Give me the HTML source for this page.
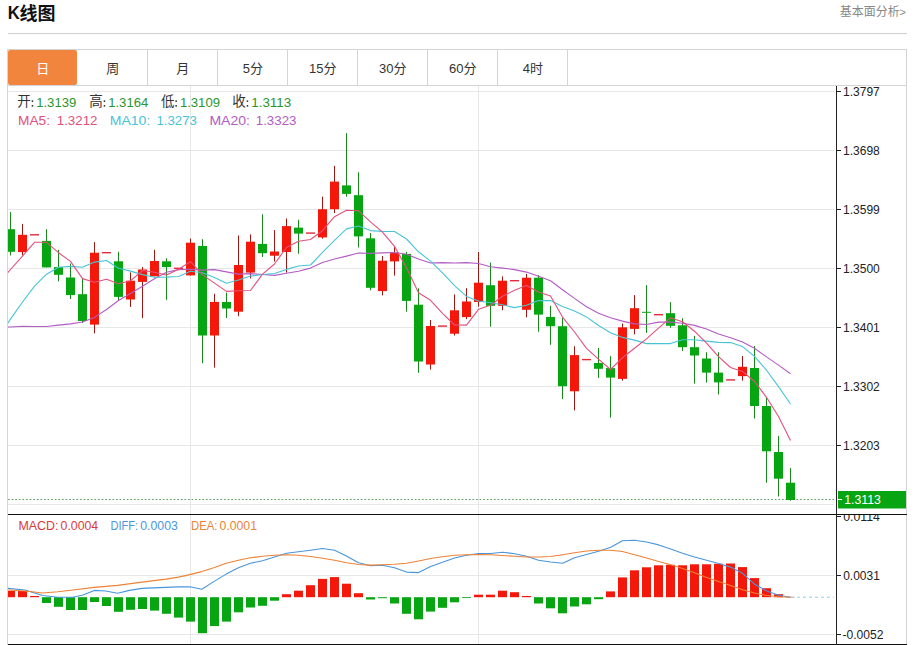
<!DOCTYPE html>
<html lang="zh"><head><meta charset="utf-8"><title>K线图</title>
<style>
html,body{margin:0;padding:0;background:#fff;}
body{width:915px;height:645px;overflow:hidden;position:relative;font-family:"Liberation Sans",sans-serif;}
.title{position:absolute;left:8px;top:2px;margin:0;font-size:18px;line-height:22px;font-weight:bold;color:#111;}
.more{position:absolute;left:899.6px;top:5px;font-size:11px;line-height:14px;color:#888;text-decoration:none;}
.hr{position:absolute;left:8px;top:33px;width:899px;height:1px;background:#cfcfcf;}
.tabs{position:absolute;left:7px;top:49px;width:898px;height:35px;border:1px solid #d4d4d4;display:flex;}
.tab{width:69px;height:35px;border-right:1px solid #d4d4d4;}
.tab.on{background:#f2853d;border-radius:2px;border-right:0;width:69px;margin-right:1px}
svg{position:absolute;left:0;top:0;}
</style></head>
<body>
<h2 class="title"></h2>
<span class="more">&gt;</span>
<div class="hr"></div>
<div class="tabs"><div class="tab on"></div><div class="tab"></div><div class="tab"></div><div class="tab"></div><div class="tab"></div><div class="tab"></div><div class="tab"></div><div class="tab"></div></div>
<svg width="915" height="645" viewBox="0 0 915 645">
<defs><clipPath id="cm"><rect x="8" y="86" width="827" height="428"/></clipPath><clipPath id="cd"><rect x="8" y="515" width="899" height="129"/></clipPath></defs>
<g id="hdr">
<text x="7.7" y="19" font-family="'Liberation Sans', sans-serif" font-size="18" font-weight="bold" fill="#111" textLength="12" lengthAdjust="spacingAndGlyphs">K</text>
<text x="19.5" y="20.2" font-family="'Liberation Sans', 'Noto Sans CJK SC', sans-serif" font-size="18" font-weight="bold" fill="#111">线图</text>
<text x="839.7" y="16.2" font-family="'Liberation Sans', 'Noto Sans CJK SC', sans-serif" font-size="12" fill="#888">基本面分析</text>
<text x="36.3" y="73.2" font-family="'Liberation Sans', 'Noto Sans CJK SC', sans-serif" font-size="13" fill="#fff">日</text>
<text x="106.3" y="73.2" font-family="'Liberation Sans', 'Noto Sans CJK SC', sans-serif" font-size="13" fill="#333">周</text>
<text x="176.3" y="73.2" font-family="'Liberation Sans', 'Noto Sans CJK SC', sans-serif" font-size="13" fill="#333">月</text>
<text x="242.7" y="72.7" font-family="'Liberation Sans', sans-serif" font-size="13" fill="#333">5</text>
<text x="249.91" y="73.2" font-family="'Liberation Sans', 'Noto Sans CJK SC', sans-serif" font-size="13" fill="#333">分</text>
<text x="309.1" y="72.7" font-family="'Liberation Sans', sans-serif" font-size="13" fill="#333">15</text>
<text x="323.53" y="73.2" font-family="'Liberation Sans', 'Noto Sans CJK SC', sans-serif" font-size="13" fill="#333">分</text>
<text x="379.1" y="72.7" font-family="'Liberation Sans', sans-serif" font-size="13" fill="#333">30</text>
<text x="393.53" y="73.2" font-family="'Liberation Sans', 'Noto Sans CJK SC', sans-serif" font-size="13" fill="#333">分</text>
<text x="449.1" y="72.7" font-family="'Liberation Sans', sans-serif" font-size="13" fill="#333">60</text>
<text x="463.53" y="73.2" font-family="'Liberation Sans', 'Noto Sans CJK SC', sans-serif" font-size="13" fill="#333">分</text>
<text x="522.7" y="72.7" font-family="'Liberation Sans', sans-serif" font-size="13" fill="#333">4</text>
<text x="529.91" y="73.2" font-family="'Liberation Sans', 'Noto Sans CJK SC', sans-serif" font-size="13" fill="#333">时</text>
</g>
<g id="chart">
<g shape-rendering="crispEdges">
<rect x="8" y="91" width="826" height="1" fill="#e7e7e7"/>
<rect x="8" y="150" width="826" height="1" fill="#e7e7e7"/>
<rect x="8" y="209" width="826" height="1" fill="#e7e7e7"/>
<rect x="8" y="268" width="826" height="1" fill="#e7e7e7"/>
<rect x="8" y="327" width="826" height="1" fill="#e7e7e7"/>
<rect x="8" y="386" width="826" height="1" fill="#e7e7e7"/>
<rect x="8" y="445" width="826" height="1" fill="#e7e7e7"/>
<rect x="8" y="504" width="826" height="1" fill="#e7e7e7"/>
<rect x="8" y="575" width="826" height="1" fill="#e7e7e7"/>
<rect x="8" y="634" width="826" height="1" fill="#e7e7e7"/>
<rect x="190" y="86" width="1" height="558" fill="#e7e7e7"/>
<rect x="478" y="86" width="1" height="558" fill="#e7e7e7"/>
<rect x="8" y="85" width="899" height="1" fill="#d4d4d4"/>
<rect x="7" y="49" width="1" height="596" fill="#d4d4d4"/>
<rect x="906" y="49" width="1" height="596" fill="#d4d4d4"/>
</g>
<line x1="8" y1="499.5" x2="834" y2="499.5" stroke="#5e9e5e" stroke-width="1" stroke-dasharray="1.7 1.9"/>
<g clip-path="url(#cm)">
<rect x="10" y="212.1" width="1" height="43.3" fill="#15881a"/>
<rect x="6" y="229.2" width="9" height="22.6" fill="#07a512"/>
<rect x="22" y="223.9" width="1" height="31.5" fill="#a01612"/>
<rect x="18" y="234.8" width="9" height="17.3" fill="#f4180a"/>
<rect x="30" y="234.1" width="9" height="1.4" fill="#e22c3e"/>
<rect x="46" y="229.2" width="1" height="38.2" fill="#15881a"/>
<rect x="42" y="240.9" width="9" height="26.5" fill="#07a512"/>
<rect x="58" y="249.8" width="1" height="31.5" fill="#15881a"/>
<rect x="54" y="267.1" width="9" height="7.7" fill="#07a512"/>
<rect x="70" y="263.6" width="1" height="35.4" fill="#15881a"/>
<rect x="66" y="277.5" width="9" height="17.6" fill="#07a512"/>
<rect x="82" y="278.3" width="1" height="44.8" fill="#15881a"/>
<rect x="78" y="294.2" width="9" height="26.8" fill="#07a512"/>
<rect x="94" y="242.1" width="1" height="91.3" fill="#a01612"/>
<rect x="90" y="252.7" width="9" height="71.9" fill="#f4180a"/>
<rect x="102" y="252" width="9" height="1.4" fill="#e22c3e"/>
<rect x="118" y="251.8" width="1" height="48.6" fill="#15881a"/>
<rect x="114" y="261.3" width="9" height="35.6" fill="#07a512"/>
<rect x="130" y="272.4" width="1" height="34.5" fill="#a01612"/>
<rect x="126" y="280.7" width="9" height="18.8" fill="#f4180a"/>
<rect x="142" y="267.1" width="1" height="51" fill="#a01612"/>
<rect x="138" y="269.5" width="9" height="12.4" fill="#f4180a"/>
<rect x="154" y="249.8" width="1" height="26.5" fill="#a01612"/>
<rect x="150" y="261" width="9" height="15.3" fill="#f4180a"/>
<rect x="166" y="258.3" width="1" height="41.5" fill="#15881a"/>
<rect x="162" y="261.3" width="9" height="5.8" fill="#07a512"/>
<rect x="174" y="267.6" width="9" height="1.4" fill="#e22c3e"/>
<rect x="190" y="238.6" width="1" height="36.8" fill="#a01612"/>
<rect x="186" y="242.7" width="9" height="32.7" fill="#f4180a"/>
<rect x="202" y="239.2" width="1" height="123.9" fill="#15881a"/>
<rect x="198" y="245.9" width="9" height="89.6" fill="#07a512"/>
<rect x="214" y="293.7" width="1" height="73.9" fill="#a01612"/>
<rect x="210" y="301.9" width="9" height="33.6" fill="#f4180a"/>
<rect x="226" y="292.6" width="1" height="25.4" fill="#15881a"/>
<rect x="222" y="302" width="9" height="6.5" fill="#07a512"/>
<rect x="238" y="235.5" width="1" height="80.7" fill="#a01612"/>
<rect x="234" y="265" width="9" height="46.7" fill="#f4180a"/>
<rect x="250" y="234.4" width="1" height="44" fill="#a01612"/>
<rect x="246" y="241.7" width="9" height="30.9" fill="#f4180a"/>
<rect x="262" y="214.3" width="1" height="42.7" fill="#15881a"/>
<rect x="258" y="243.9" width="9" height="9.3" fill="#07a512"/>
<rect x="274" y="230.1" width="1" height="31.4" fill="#a01612"/>
<rect x="270" y="251.5" width="9" height="4.2" fill="#f4180a"/>
<rect x="286" y="218.5" width="1" height="54.1" fill="#a01612"/>
<rect x="282" y="226.1" width="9" height="25.9" fill="#f4180a"/>
<rect x="298" y="219.8" width="1" height="33.9" fill="#15881a"/>
<rect x="294" y="227.6" width="9" height="6" fill="#07a512"/>
<rect x="306" y="232.4" width="9" height="1.4" fill="#e22c3e"/>
<rect x="322" y="196.7" width="1" height="42" fill="#a01612"/>
<rect x="318" y="209.2" width="9" height="28.2" fill="#f4180a"/>
<rect x="334" y="165.8" width="1" height="47.2" fill="#a01612"/>
<rect x="330" y="181.6" width="9" height="27.6" fill="#f4180a"/>
<rect x="346" y="133.1" width="1" height="63.6" fill="#15881a"/>
<rect x="342" y="185.4" width="9" height="8.5" fill="#07a512"/>
<rect x="358" y="172.3" width="1" height="75.2" fill="#15881a"/>
<rect x="354" y="195.2" width="9" height="41.2" fill="#07a512"/>
<rect x="370" y="233" width="1" height="57.3" fill="#15881a"/>
<rect x="366" y="238.3" width="9" height="49.5" fill="#07a512"/>
<rect x="382" y="256" width="1" height="39.4" fill="#a01612"/>
<rect x="378" y="260.7" width="9" height="30.4" fill="#f4180a"/>
<rect x="394" y="247.1" width="1" height="28.5" fill="#a01612"/>
<rect x="390" y="252.6" width="9" height="8.8" fill="#f4180a"/>
<rect x="406" y="251.8" width="1" height="59.9" fill="#15881a"/>
<rect x="402" y="253.9" width="9" height="47" fill="#07a512"/>
<rect x="418" y="288.3" width="1" height="84.5" fill="#15881a"/>
<rect x="414" y="304.7" width="9" height="56.8" fill="#07a512"/>
<rect x="430" y="320" width="1" height="49.5" fill="#a01612"/>
<rect x="426" y="326" width="9" height="38.5" fill="#f4180a"/>
<rect x="438" y="325.4" width="9" height="1.4" fill="#e22c3e"/>
<rect x="454" y="294.5" width="1" height="41" fill="#a01612"/>
<rect x="450" y="310.3" width="9" height="23.4" fill="#f4180a"/>
<rect x="466" y="288.2" width="1" height="30.9" fill="#a01612"/>
<rect x="462" y="301.5" width="9" height="15.6" fill="#f4180a"/>
<rect x="478" y="252" width="1" height="54.6" fill="#a01612"/>
<rect x="474" y="282.7" width="9" height="19.3" fill="#f4180a"/>
<rect x="490" y="262.6" width="1" height="64.1" fill="#15881a"/>
<rect x="486" y="285.2" width="9" height="20.6" fill="#07a512"/>
<rect x="502" y="276.4" width="1" height="33.9" fill="#a01612"/>
<rect x="498" y="280.7" width="9" height="25.1" fill="#f4180a"/>
<rect x="510" y="280" width="9" height="1.4" fill="#e22c3e"/>
<rect x="526" y="273.9" width="1" height="43.5" fill="#a01612"/>
<rect x="522" y="277.7" width="9" height="32.1" fill="#f4180a"/>
<rect x="538" y="275.1" width="1" height="56.6" fill="#15881a"/>
<rect x="534" y="277.7" width="9" height="36.9" fill="#07a512"/>
<rect x="550" y="305.8" width="1" height="39" fill="#15881a"/>
<rect x="546" y="316.9" width="9" height="9.3" fill="#07a512"/>
<rect x="562" y="317.9" width="1" height="81.2" fill="#15881a"/>
<rect x="558" y="326.2" width="9" height="60" fill="#07a512"/>
<rect x="574" y="346.3" width="1" height="64.1" fill="#a01612"/>
<rect x="570" y="355.1" width="9" height="36.2" fill="#f4180a"/>
<rect x="582" y="358.9" width="9" height="1.4" fill="#e22c3e"/>
<rect x="598" y="348" width="1" height="29.9" fill="#15881a"/>
<rect x="594" y="363" width="9" height="5.8" fill="#07a512"/>
<rect x="610" y="356.2" width="1" height="61.4" fill="#15881a"/>
<rect x="606" y="368.1" width="9" height="9.5" fill="#07a512"/>
<rect x="622" y="323.5" width="1" height="57.1" fill="#a01612"/>
<rect x="618" y="327.3" width="9" height="51.6" fill="#f4180a"/>
<rect x="634" y="295.1" width="1" height="39.3" fill="#a01612"/>
<rect x="630" y="308.2" width="9" height="20.7" fill="#f4180a"/>
<rect x="646" y="285.1" width="1" height="47.8" fill="#15881a"/>
<rect x="642" y="311.8" width="9" height="1" fill="#07a512"/>
<rect x="654" y="314" width="9" height="1.4" fill="#e22c3e"/>
<rect x="670" y="302.2" width="1" height="25.6" fill="#15881a"/>
<rect x="666" y="313.2" width="9" height="12.6" fill="#07a512"/>
<rect x="682" y="318.3" width="1" height="32.6" fill="#15881a"/>
<rect x="678" y="325.3" width="9" height="21.9" fill="#07a512"/>
<rect x="694" y="335.9" width="1" height="47.7" fill="#15881a"/>
<rect x="690" y="347.2" width="9" height="8.3" fill="#07a512"/>
<rect x="706" y="352.2" width="1" height="30.4" fill="#15881a"/>
<rect x="702" y="358.5" width="9" height="14.1" fill="#07a512"/>
<rect x="718" y="352.2" width="1" height="42.2" fill="#15881a"/>
<rect x="714" y="372.6" width="9" height="9.8" fill="#07a512"/>
<rect x="726" y="379.2" width="9" height="1.4" fill="#e22c3e"/>
<rect x="742" y="356" width="1" height="24.6" fill="#a01612"/>
<rect x="738" y="366.8" width="9" height="9.3" fill="#f4180a"/>
<rect x="754" y="345.9" width="1" height="72.5" fill="#15881a"/>
<rect x="750" y="368" width="9" height="38" fill="#07a512"/>
<rect x="766" y="398" width="1" height="84.7" fill="#15881a"/>
<rect x="762" y="406" width="9" height="45.3" fill="#07a512"/>
<rect x="778" y="435.9" width="1" height="60.6" fill="#15881a"/>
<rect x="774" y="452" width="9" height="26.7" fill="#07a512"/>
<rect x="790" y="468.1" width="1" height="32.7" fill="#15881a"/>
<rect x="786" y="482.7" width="9" height="17.3" fill="#07a512"/>
</g>
<polyline clip-path="url(#cm)" fill="none" stroke="#b25cc4" stroke-width="1.1" stroke-linejoin="round" points="-1.5,327.3 10.5,327 22.5,326.2 34.5,326.5 46.5,326.5 58.5,325.1 70.5,323.9 82.5,322 94.5,317.4 106.5,309.5 118.5,300.5 130.5,293.5 142.5,286.2 154.5,278.8 166.5,272.2 178.5,269.6 190.5,269.2 202.5,270.1 214.5,269.6 226.5,271.9 238.5,274.1 250.5,273.6 262.5,274.5 274.5,275.4 286.5,273.3 298.5,271.2 310.5,268.1 322.5,262.5 334.5,259 346.5,256.1 358.5,253 370.5,253.4 382.5,252.9 394.5,252.5 406.5,254.2 418.5,258.9 430.5,263 442.5,262.6 454.5,263 466.5,262.6 478.5,263.5 490.5,266.7 502.5,268.1 514.5,269.6 526.5,272.1 538.5,276.2 550.5,280.8 562.5,289.7 574.5,298.4 586.5,306.7 598.5,313.3 610.5,317.8 622.5,321.1 634.5,323.9 646.5,324.5 658.5,322.1 670.5,322.1 682.5,323.2 694.5,325.4 706.5,329 718.5,334 730.5,337.7 742.5,342 754.5,348.2 766.5,356.9 778.5,365.1 790.5,373.8"/>
<polyline clip-path="url(#cm)" fill="none" stroke="#48c4d6" stroke-width="1.1" stroke-linejoin="round" points="-1.5,336.4 10.5,319.1 22.5,302 34.5,286.2 46.5,274.2 58.5,267.3 70.5,266.4 82.5,267.3 94.5,262.1 106.5,260.5 118.5,268.2 130.5,271.1 142.5,274.6 154.5,277.2 166.5,277.1 178.5,276.5 190.5,271.3 202.5,272.7 214.5,277.6 226.5,283.2 238.5,280 250.5,276.1 262.5,274.5 274.5,273.5 286.5,269.4 298.5,266 310.5,265 322.5,252.4 334.5,240.3 346.5,228.9 358.5,226 370.5,230.6 382.5,231.4 394.5,231.5 406.5,239 418.5,251.8 430.5,261.1 442.5,272.8 454.5,285.6 466.5,296.4 478.5,301 490.5,302.8 502.5,304.8 514.5,307.6 526.5,305.3 538.5,300.6 550.5,300.6 562.5,306.6 574.5,311.1 586.5,316.9 598.5,325.5 610.5,332.7 622.5,337.4 634.5,340.1 646.5,343.6 658.5,343.6 670.5,343.6 682.5,339.7 694.5,339.8 706.5,341.1 718.5,342.4 730.5,342.6 742.5,346.6 754.5,356.4 766.5,370.2 778.5,386.6 790.5,404"/>
<polyline clip-path="url(#cm)" fill="none" stroke="#e2507e" stroke-width="1.1" stroke-linejoin="round" points="-1.5,283.1 10.5,269.5 22.5,256.1 34.5,242.3 46.5,242.3 58.5,252.7 70.5,261.4 82.5,278.6 94.5,282.2 106.5,279.3 118.5,283.7 130.5,280.8 142.5,270.5 154.5,272.2 166.5,275 178.5,269.3 190.5,261.7 202.5,274.9 214.5,283.1 226.5,291.4 238.5,290.7 250.5,290.5 262.5,274.1 274.5,264 286.5,247.5 298.5,241.2 310.5,239.5 322.5,230.7 334.5,216.7 346.5,210.3 358.5,210.8 370.5,221.8 382.5,232.1 394.5,246.3 406.5,267.7 418.5,292.7 430.5,300.3 442.5,313.4 454.5,325 466.5,325.1 478.5,309.3 490.5,305.3 502.5,296.2 514.5,290.3 526.5,285.5 538.5,291.9 550.5,296 562.5,317.1 574.5,332 586.5,348.3 598.5,359.2 610.5,369.5 622.5,357.7 634.5,348.3 646.5,338.9 658.5,328.1 670.5,317.8 682.5,321.7 694.5,331.2 706.5,343.2 718.5,356.7 730.5,367.5 742.5,371.4 754.5,381.5 766.5,397.3 778.5,416.5 790.5,440.6"/>
<g clip-path="url(#cd)">
<rect x="6" y="590.9" width="9" height="6.3" fill="#f4180a"/>
<rect x="18" y="591" width="9" height="6.2" fill="#f4180a"/>
<rect x="30" y="596" width="9" height="1.2" fill="#f4180a"/>
<rect x="42" y="597.2" width="9" height="5.8" fill="#07a512"/>
<rect x="54" y="597.2" width="9" height="9.6" fill="#07a512"/>
<rect x="66" y="597.2" width="9" height="12.8" fill="#07a512"/>
<rect x="78" y="597.2" width="9" height="12.8" fill="#07a512"/>
<rect x="90" y="597.2" width="9" height="4.8" fill="#07a512"/>
<rect x="102" y="597.2" width="9" height="8.8" fill="#07a512"/>
<rect x="114" y="597.2" width="9" height="14.6" fill="#07a512"/>
<rect x="126" y="597.2" width="9" height="12.6" fill="#07a512"/>
<rect x="138" y="597.2" width="9" height="11.8" fill="#07a512"/>
<rect x="150" y="597.2" width="9" height="13.4" fill="#07a512"/>
<rect x="162" y="597.2" width="9" height="16.6" fill="#07a512"/>
<rect x="174" y="597.2" width="9" height="20.4" fill="#07a512"/>
<rect x="186" y="597.2" width="9" height="24.4" fill="#07a512"/>
<rect x="198" y="597.2" width="9" height="36" fill="#07a512"/>
<rect x="210" y="597.2" width="9" height="28.9" fill="#07a512"/>
<rect x="222" y="597.2" width="9" height="24.4" fill="#07a512"/>
<rect x="234" y="597.2" width="9" height="15.1" fill="#07a512"/>
<rect x="246" y="597.2" width="9" height="10.3" fill="#07a512"/>
<rect x="258" y="597.2" width="9" height="8.6" fill="#07a512"/>
<rect x="270" y="597.2" width="9" height="3.5" fill="#07a512"/>
<rect x="282" y="594.2" width="9" height="3" fill="#f4180a"/>
<rect x="294" y="590.7" width="9" height="6.5" fill="#f4180a"/>
<rect x="306" y="585.2" width="9" height="12" fill="#f4180a"/>
<rect x="318" y="578.9" width="9" height="18.3" fill="#f4180a"/>
<rect x="330" y="577.1" width="9" height="20.1" fill="#f4180a"/>
<rect x="342" y="583.7" width="9" height="13.5" fill="#f4180a"/>
<rect x="354" y="593.2" width="9" height="4" fill="#f4180a"/>
<rect x="366" y="597.2" width="9" height="2.3" fill="#07a512"/>
<rect x="378" y="597.2" width="9" height="1" fill="#07a512"/>
<rect x="390" y="597.2" width="9" height="6.3" fill="#07a512"/>
<rect x="402" y="597.2" width="9" height="16.6" fill="#07a512"/>
<rect x="414" y="597.2" width="9" height="22.1" fill="#07a512"/>
<rect x="426" y="597.2" width="9" height="14.4" fill="#07a512"/>
<rect x="438" y="597.2" width="9" height="10.6" fill="#07a512"/>
<rect x="450" y="597.2" width="9" height="5.1" fill="#07a512"/>
<rect x="462" y="597.2" width="9" height="0.8" fill="#07a512"/>
<rect x="474" y="594.7" width="9" height="2.5" fill="#f4180a"/>
<rect x="486" y="594.7" width="9" height="2.5" fill="#f4180a"/>
<rect x="498" y="590.7" width="9" height="6.5" fill="#f4180a"/>
<rect x="510" y="592.2" width="9" height="5" fill="#f4180a"/>
<rect x="522" y="596" width="9" height="1.2" fill="#f4180a"/>
<rect x="534" y="597.2" width="9" height="6.3" fill="#07a512"/>
<rect x="546" y="597.2" width="9" height="11.1" fill="#07a512"/>
<rect x="558" y="597.2" width="9" height="16.1" fill="#07a512"/>
<rect x="570" y="597.2" width="9" height="9.3" fill="#07a512"/>
<rect x="582" y="597.2" width="9" height="7.1" fill="#07a512"/>
<rect x="594" y="597.2" width="9" height="2" fill="#07a512"/>
<rect x="606" y="591.4" width="9" height="5.8" fill="#f4180a"/>
<rect x="618" y="577.4" width="9" height="19.8" fill="#f4180a"/>
<rect x="630" y="570.3" width="9" height="26.9" fill="#f4180a"/>
<rect x="642" y="567.3" width="9" height="29.9" fill="#f4180a"/>
<rect x="654" y="565.3" width="9" height="31.9" fill="#f4180a"/>
<rect x="666" y="564.8" width="9" height="32.4" fill="#f4180a"/>
<rect x="678" y="565.3" width="9" height="31.9" fill="#f4180a"/>
<rect x="690" y="564.3" width="9" height="32.9" fill="#f4180a"/>
<rect x="702" y="564.3" width="9" height="32.9" fill="#f4180a"/>
<rect x="714" y="563.8" width="9" height="33.4" fill="#f4180a"/>
<rect x="726" y="563.5" width="9" height="33.7" fill="#f4180a"/>
<rect x="738" y="567.1" width="9" height="30.1" fill="#f4180a"/>
<rect x="750" y="578.1" width="9" height="19.1" fill="#f4180a"/>
<rect x="762" y="588.2" width="9" height="9" fill="#f4180a"/>
<rect x="774" y="594.2" width="9" height="3" fill="#f4180a"/>
<rect x="786" y="596.9" width="9" height="0.3" fill="#f4180a"/>
<polyline fill="none" stroke="#4a96dc" stroke-width="1.1" stroke-linejoin="round" points="8,588.4 25.1,590 42.7,595.5 57.8,597.2 72.9,597.2 83,595 94.3,590.4 105.6,591 117.6,593.2 129.5,590.4 142,588.4 153.3,587.9 165.9,587.4 178.5,586.9 189.8,586.7 201.9,589.2 213.7,581.6 226.2,574.1 238.4,567.8 250.4,563.3 262.5,560.8 274.5,557 286.6,553.2 298.4,551.7 310.5,550.2 322.6,548.5 334.6,550.2 346.4,556 358.5,562.8 370.6,565.8 382.6,565.3 394.5,567.8 406.5,572.1 418.6,572.6 430.7,566.6 442.5,562.3 454.6,558 466.6,555.2 478.5,553.5 490.5,553.5 502.6,552.2 514.7,553.7 526.5,556.3 538.5,560.3 550.6,562 562.7,563.3 574.5,557.8 586.6,554.5 598.6,551.2 610.7,547.2 622.5,540.7 634.6,540.2 646.6,542 658.7,544.9 670.7,549 682.5,553.2 694.5,557 706.6,560.3 718.7,563.5 730.5,567.1 742.6,573.3 754.6,584.2 766.7,590.9 778.5,595.2 790.6,597.2"/>
<polyline fill="none" stroke="#ee8236" stroke-width="1.1" stroke-linejoin="round" points="8,590 25.1,591 42.7,593 57.8,591.7 72.9,590 94.3,587.4 117.6,585.4 142,582.1 165.9,579.1 178.5,577.1 189.8,574.6 201.9,571.6 213.7,567.8 226.2,563.3 238.4,560.3 250.4,557.8 262.5,556.3 274.5,555.2 286.6,554.7 298.4,555.2 310.5,556.5 322.6,558.3 334.6,560.3 346.4,562.8 358.5,564.5 370.6,565.1 382.6,564.8 394.5,564.3 406.5,563.3 418.6,561 430.7,558.5 442.5,556.8 454.6,555.2 466.6,554.7 478.5,554.5 490.5,554.7 502.6,555.5 514.7,556.3 526.5,557 538.5,557 550.6,556.5 562.7,554.7 574.5,552.7 586.6,551 598.6,550.2 610.7,550.2 622.5,551.5 634.6,554.7 646.6,558 658.7,561.5 670.7,564.8 682.5,568.6 694.5,572.8 706.6,577.4 718.7,581.6 730.5,585.4 742.6,589.7 754.6,593 766.7,595.5 778.5,596.7 790.6,597.2"/>
</g>
<line x1="791" y1="597.2" x2="834" y2="597.2" stroke="#8ccfe6" stroke-width="1" stroke-dasharray="3 3"/>
<g shape-rendering="crispEdges">
<rect x="8" y="514" width="899" height="1" fill="#111"/>
<rect x="8" y="644" width="899" height="1" fill="#111"/>
<rect x="836" y="86" width="1" height="559" fill="#222"/>
<rect x="837" y="91" width="4" height="1" fill="#222"/>
<rect x="837" y="150" width="4" height="1" fill="#222"/>
<rect x="837" y="209" width="4" height="1" fill="#222"/>
<rect x="837" y="268" width="4" height="1" fill="#222"/>
<rect x="837" y="327" width="4" height="1" fill="#222"/>
<rect x="837" y="386" width="4" height="1" fill="#222"/>
<rect x="837" y="445" width="4" height="1" fill="#222"/>
<rect x="837" y="516" width="4" height="1" fill="#222"/>
<rect x="837" y="575" width="4" height="1" fill="#222"/>
<rect x="837" y="634" width="4" height="1" fill="#222"/>
</g>
<g font-family="'Liberation Sans', sans-serif" font-size="12" fill="#222">
<text x="843" y="95.5" textLength="36.8" lengthAdjust="spacingAndGlyphs">1.3797</text>
<text x="843" y="154.6" textLength="36.8" lengthAdjust="spacingAndGlyphs">1.3698</text>
<text x="843" y="213.6" textLength="36.8" lengthAdjust="spacingAndGlyphs">1.3599</text>
<text x="843" y="272.6" textLength="36.8" lengthAdjust="spacingAndGlyphs">1.3500</text>
<text x="843" y="331.7" textLength="36.8" lengthAdjust="spacingAndGlyphs">1.3401</text>
<text x="843" y="390.8" textLength="36.8" lengthAdjust="spacingAndGlyphs">1.3302</text>
<text x="843" y="449.8" textLength="36.8" lengthAdjust="spacingAndGlyphs">1.3203</text>
<g clip-path="url(#cd)">
<text x="843.2" y="520.6" textLength="36.6" lengthAdjust="spacingAndGlyphs">0.0114</text>
</g>
<text x="843.2" y="579.8" textLength="36.6" lengthAdjust="spacingAndGlyphs">0.0031</text>
<text x="842.5" y="638.8" textLength="41" lengthAdjust="spacingAndGlyphs">-0.0052</text>
</g>
<rect x="838" y="491" width="68" height="17.5" fill="#07a512"/>
<rect x="838" y="499" width="4" height="1" fill="#fff" shape-rendering="crispEdges"/>
<text x="844.2" y="504.3" font-family="'Liberation Sans', sans-serif" font-size="12" fill="#fff" textLength="36.6" lengthAdjust="spacingAndGlyphs">1.3113</text>
<text x="17.3" y="106.4" font-family="'Liberation Sans', 'Noto Sans CJK SC', sans-serif" font-size="13.5" fill="#333">开</text>
<rect x="31.7" y="100.4" width="1.5" height="1.5" fill="#222"/><rect x="31.7" y="105.1" width="1.5" height="1.5" fill="#222"/>
<text x="36.2" y="107" font-family="'Liberation Sans', sans-serif" font-size="13" fill="#2a962e" textLength="40.1" lengthAdjust="spacingAndGlyphs">1.3139</text>
<text x="89.3" y="106.4" font-family="'Liberation Sans', 'Noto Sans CJK SC', sans-serif" font-size="13.5" fill="#333">高</text>
<rect x="103.7" y="100.4" width="1.5" height="1.5" fill="#222"/><rect x="103.7" y="105.1" width="1.5" height="1.5" fill="#222"/>
<text x="108.19999999999999" y="107" font-family="'Liberation Sans', sans-serif" font-size="13" fill="#2a962e" textLength="40.1" lengthAdjust="spacingAndGlyphs">1.3164</text>
<text x="161" y="106.4" font-family="'Liberation Sans', 'Noto Sans CJK SC', sans-serif" font-size="13.5" fill="#333">低</text>
<rect x="175.4" y="100.4" width="1.5" height="1.5" fill="#222"/><rect x="175.4" y="105.1" width="1.5" height="1.5" fill="#222"/>
<text x="179.9" y="107" font-family="'Liberation Sans', sans-serif" font-size="13" fill="#2a962e" textLength="40.1" lengthAdjust="spacingAndGlyphs">1.3109</text>
<text x="232.3" y="106.4" font-family="'Liberation Sans', 'Noto Sans CJK SC', sans-serif" font-size="13.5" fill="#333">收</text>
<rect x="246.7" y="100.4" width="1.5" height="1.5" fill="#222"/><rect x="246.7" y="105.1" width="1.5" height="1.5" fill="#222"/>
<text x="251.20000000000002" y="107" font-family="'Liberation Sans', sans-serif" font-size="13" fill="#2a962e" textLength="40.1" lengthAdjust="spacingAndGlyphs">1.3113</text>
<text x="18" y="124.6" font-family="'Liberation Sans', sans-serif" font-size="13" fill="#e2507e" textLength="32" lengthAdjust="spacingAndGlyphs">MA5:</text>
<text x="56.8" y="124.6" font-family="'Liberation Sans', sans-serif" font-size="13" fill="#e2507e" textLength="40.6" lengthAdjust="spacingAndGlyphs">1.3212</text>
<text x="109.8" y="124.6" font-family="'Liberation Sans', sans-serif" font-size="13" fill="#48c4d6" textLength="40.5" lengthAdjust="spacingAndGlyphs">MA10:</text>
<text x="156.4" y="124.6" font-family="'Liberation Sans', sans-serif" font-size="13" fill="#48c4d6" textLength="40.6" lengthAdjust="spacingAndGlyphs">1.3273</text>
<text x="209.4" y="124.6" font-family="'Liberation Sans', sans-serif" font-size="13" fill="#b25cc4" textLength="40.6" lengthAdjust="spacingAndGlyphs">MA20:</text>
<text x="255.8" y="124.6" font-family="'Liberation Sans', sans-serif" font-size="13" fill="#b25cc4" textLength="40.6" lengthAdjust="spacingAndGlyphs">1.3323</text>
<text x="18.5" y="530.2" font-family="'Liberation Sans', sans-serif" font-size="12" fill="#d83a3a" textLength="40" lengthAdjust="spacingAndGlyphs">MACD:</text>
<text x="60.6" y="530.2" font-family="'Liberation Sans', sans-serif" font-size="12" fill="#d83a3a" textLength="37.5" lengthAdjust="spacingAndGlyphs">0.0004</text>
<text x="110.5" y="530.2" font-family="'Liberation Sans', sans-serif" font-size="12" fill="#4a96dc" textLength="27.5" lengthAdjust="spacingAndGlyphs">DIFF:</text>
<text x="140.3" y="530.2" font-family="'Liberation Sans', sans-serif" font-size="12" fill="#4a96dc" textLength="37.5" lengthAdjust="spacingAndGlyphs">0.0003</text>
<text x="191" y="530.2" font-family="'Liberation Sans', sans-serif" font-size="12" fill="#ee8236" textLength="26.5" lengthAdjust="spacingAndGlyphs">DEA:</text>
<text x="219.5" y="530.2" font-family="'Liberation Sans', sans-serif" font-size="12" fill="#ee8236" textLength="37.5" lengthAdjust="spacingAndGlyphs">0.0001</text>
</g>
</svg>
</body></html>
